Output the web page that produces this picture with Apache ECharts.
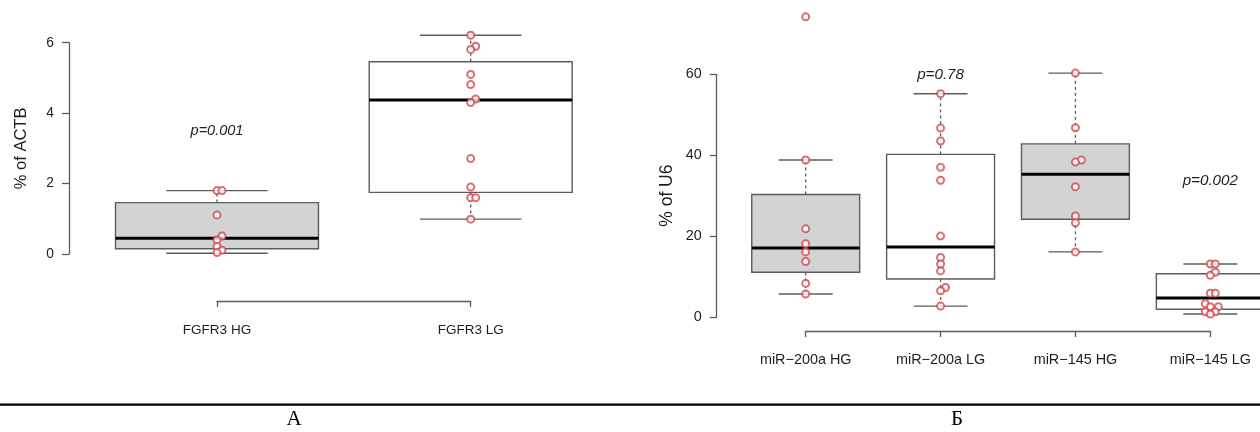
<!DOCTYPE html>
<html>
<head>
<meta charset="utf-8">
<script src="https://cdn.jsdelivr.net/npm/echarts@6/dist/echarts.min.js"></script>
<style>
html,body{margin:0;padding:0;background:#fff;}
#c{width:1260px;height:432px;}
</style>
</head>
<body>
<div id="c"></div>
<script>
// ---------- DATA ----------
const leftCategories = ['FGFR3 HG', 'FGFR3 LG'];
const leftYTicks = [0, 2, 4, 6];
// [min, q1, median, q3, max]
const leftBoxes = [
  [0.02, 0.15, 0.45, 1.46, 1.80],
  [0.99, 1.75, 4.37, 5.46, 6.21]
];
const leftPoints = [
  [1.80, 1.80, 1.11, 0.51, 0.40, 0.21, 0.11, 0.04],
  [6.21, 5.90, 5.81, 5.10, 4.81, 4.40, 4.30, 2.71, 1.90, 1.60, 1.60, 0.99]
];
const leftJitter = [
  [0, 5, 0, 5, 0, 0, 5, 0],
  [0, 5, 0, 0, 0, 5, 0, 0, 0, 0, 5, 0]
];
const leftPLabels = ['p=0.001'];
const leftPAt = [[0, 3.49]];

const rightCategories = ['miR\u2212200a HG', 'miR\u2212200a LG', 'miR\u2212145 HG', 'miR\u2212145 LG'];
const rightYTicks = [0, 20, 40, 60];
const rightBoxes = [
  [5.7, 11.05, 17.06, 30.3, 38.8],
  [2.7, 9.4, 17.3, 40.2, 55.2],
  [16.1, 24.15, 35.3, 42.8, 60.3],
  [0.74, 1.9, 4.7, 10.7, 13.1]
];
const rightPoints = [
  [74.2, 38.8, 21.8, 18.1, 16.1, 13.7, 8.3, 5.7],
  [55.2, 46.7, 43.5, 37.0, 33.8, 20.0, 14.7, 13.1, 11.4, 7.3, 6.5, 2.7],
  [60.3, 46.8, 38.8, 38.3, 32.2, 25.0, 23.3, 16.1],
  [13.1, 13.1, 11.05, 10.3, 5.9, 5.9, 3.3, 2.55, 2.55, 1.3, 1.3, 0.74]
];
const rightJitter = [
  [0, 0, 0, 0, 0, 0, 0, 0],
  [0, 0, 0, 0, 0, 0, 0, 0, 0, 5, 0, 0],
  [0, 0, 6, 0, 0, 0, 0, 0],
  [0, 5, 5, 0, 0, 5, -5, 0, 8, -5, 5, 0]
];
const rightPLabels = ['p=0.78', 'p=0.002'];
const rightPAt = [[1, 60.0], [3, 33.6]];

const boxFills = ['#d3d3d3', '#ffffff'];

// ---------- STYLE ----------
const LINE = '#5c5c5c';
const TEXT = '#1e1e1e';
const PT = '#cf4a50';
const FONT = '"Liberation Sans", Arial, Helvetica, sans-serif';

function boxRender(params, api) {
  const i = api.value(0);
  const vMin = api.value(1), q1 = api.value(2), med = api.value(3), q3 = api.value(4), vMax = api.value(5);
  const band = api.size([1, 0])[0];
  const bw = band * 0.8, cw = band * 0.4;
  const pMin = api.coord([i, vMin]), pQ1 = api.coord([i, q1]), pMed = api.coord([i, med]),
        pQ3 = api.coord([i, q3]), pMax = api.coord([i, vMax]);
  const cx = pMed[0];
  const fill = boxFills[i % 2];
  return {
    type: 'group',
    children: [
      { type: 'line', shape: { x1: cx, y1: pQ3[1], x2: cx, y2: pMax[1] },
        style: { stroke: LINE, lineWidth: 1.3, lineDash: [3, 3] } },
      { type: 'line', shape: { x1: cx, y1: pQ1[1], x2: cx, y2: pMin[1] },
        style: { stroke: LINE, lineWidth: 1.3, lineDash: [3, 3] } },
      { type: 'line', shape: { x1: cx - cw / 2, y1: pMax[1], x2: cx + cw / 2, y2: pMax[1] },
        style: { stroke: LINE, lineWidth: 1.4 } },
      { type: 'line', shape: { x1: cx - cw / 2, y1: pMin[1], x2: cx + cw / 2, y2: pMin[1] },
        style: { stroke: LINE, lineWidth: 1.4 } },
      { type: 'rect', shape: { x: cx - bw / 2, y: pQ3[1], width: bw, height: pQ1[1] - pQ3[1] },
        style: { fill: fill, stroke: LINE, lineWidth: 1.4 } },
      { type: 'line', shape: { x1: cx - bw / 2, y1: pMed[1], x2: cx + bw / 2, y2: pMed[1] },
        style: { stroke: '#000', lineWidth: 3 } }
    ]
  };
}

function makeTextRender(labels, size) {
  return function (params, api) {
    const p = api.coord([api.value(0), api.value(1)]);
    return {
      type: 'text', x: p[0], y: p[1],
      style: { text: labels[params.dataIndex], fill: TEXT, align: 'center', verticalAlign: 'middle',
               font: 'italic ' + size + 'px ' + FONT }
    };
  };
}

function boxData(boxes) {
  return boxes.map((b, i) => [i].concat(b));
}
function pointData(points, jitter) {
  const out = [];
  points.forEach((arr, i) => arr.forEach((v, k) => {
    out.push({ value: [i, v], symbolOffset: [jitter[i][k], 0] });
  }));
  return out;
}

function yAxisCfg(grid, ticks, name, offset, gap, nameSize, labSize) {
  return {
    type: 'value', gridIndex: grid,
    min: ticks[0], max: ticks[ticks.length - 1], interval: ticks[1] - ticks[0],
    offset: offset,
    name: name, nameLocation: 'middle', nameGap: gap,
    nameTextStyle: { fontSize: nameSize, color: TEXT, fontFamily: FONT },
    axisLine: { show: true, onZero: false, lineStyle: { color: LINE, width: 1.3 } },
    axisTick: { show: true, length: 7, lineStyle: { color: LINE, width: 1.3 } },
    axisLabel: { margin: 15, fontSize: labSize, color: TEXT, fontFamily: FONT },
    splitLine: { show: false }
  };
}
function xAxisCfg(grid, cats, offset, labSize, margin) {
  return {
    type: 'category', gridIndex: grid, data: cats, boundaryGap: false,
    offset: offset,
    axisLine: { show: true, onZero: false, lineStyle: { color: LINE, width: 1.3 } },
    axisTick: { show: true, length: 6, lineStyle: { color: LINE, width: 1.3 } },
    axisLabel: { margin: margin, fontSize: labSize, color: TEXT, fontFamily: FONT, interval: 0 },
    splitLine: { show: false }
  };
}

const chart = echarts.init(document.getElementById('c'), null, { renderer: 'canvas' });
chart.setOption({
  animation: false,
  backgroundColor: '#fff',
  grid: [
    { left: 217, width: 253.7, top: 42.7, height: 211.3 },
    { left: 805.7, width: 404.6, top: 74.3, height: 242.7 }
  ],
  xAxis: [
    xAxisCfg(0, leftCategories, 47, 13.5, 22),
    xAxisCfg(1, rightCategories, 14, 14.4, 22)
  ],
  yAxis: [
    yAxisCfg(0, leftYTicks, '% of ACTB', 148, 39, 16.5, 13.8),
    yAxisCfg(1, rightYTicks, '% of U6', 89, 41, 17.5, 14.4)
  ],
  series: [
    { type: 'custom', xAxisIndex: 0, yAxisIndex: 0, renderItem: boxRender,
      data: boxData(leftBoxes), clip: false, z: 2 },
    { type: 'custom', xAxisIndex: 1, yAxisIndex: 1, renderItem: boxRender,
      data: boxData(rightBoxes), clip: false, z: 2 },
    { type: 'scatter', xAxisIndex: 0, yAxisIndex: 0, symbol: 'emptyCircle', symbolSize: 7,
      itemStyle: { color: PT, borderColor: PT, borderWidth: 1.1 }, clip: false, z: 5,
      data: pointData(leftPoints, leftJitter) },
    { type: 'scatter', xAxisIndex: 1, yAxisIndex: 1, symbol: 'emptyCircle', symbolSize: 7,
      itemStyle: { color: PT, borderColor: PT, borderWidth: 1.1 }, clip: false, z: 5,
      data: pointData(rightPoints, rightJitter) },
    { type: 'custom', xAxisIndex: 0, yAxisIndex: 0, renderItem: makeTextRender(leftPLabels, 14.5),
      data: leftPAt, clip: false, z: 6 },
    { type: 'custom', xAxisIndex: 1, yAxisIndex: 1, renderItem: makeTextRender(rightPLabels, 15.2),
      data: rightPAt, clip: false, z: 6 }
  ],
  graphic: [
    { type: 'line', shape: { x1: 0, y1: 404.7, x2: 1260, y2: 404.7 },
      style: { stroke: '#000', lineWidth: 2.2 } },
    { type: 'text', x: 294, y: 419.5, style: { text: '\u0410', fill: '#000',
      font: '21px "Liberation Serif", "DejaVu Serif", serif', align: 'center', verticalAlign: 'middle' } },
    { type: 'text', x: 957, y: 419.5, style: { text: '\u0411', fill: '#000',
      font: '21px "Liberation Serif", "DejaVu Serif", serif', align: 'center', verticalAlign: 'middle' } }
  ]
});
</script>
</body>
</html>
